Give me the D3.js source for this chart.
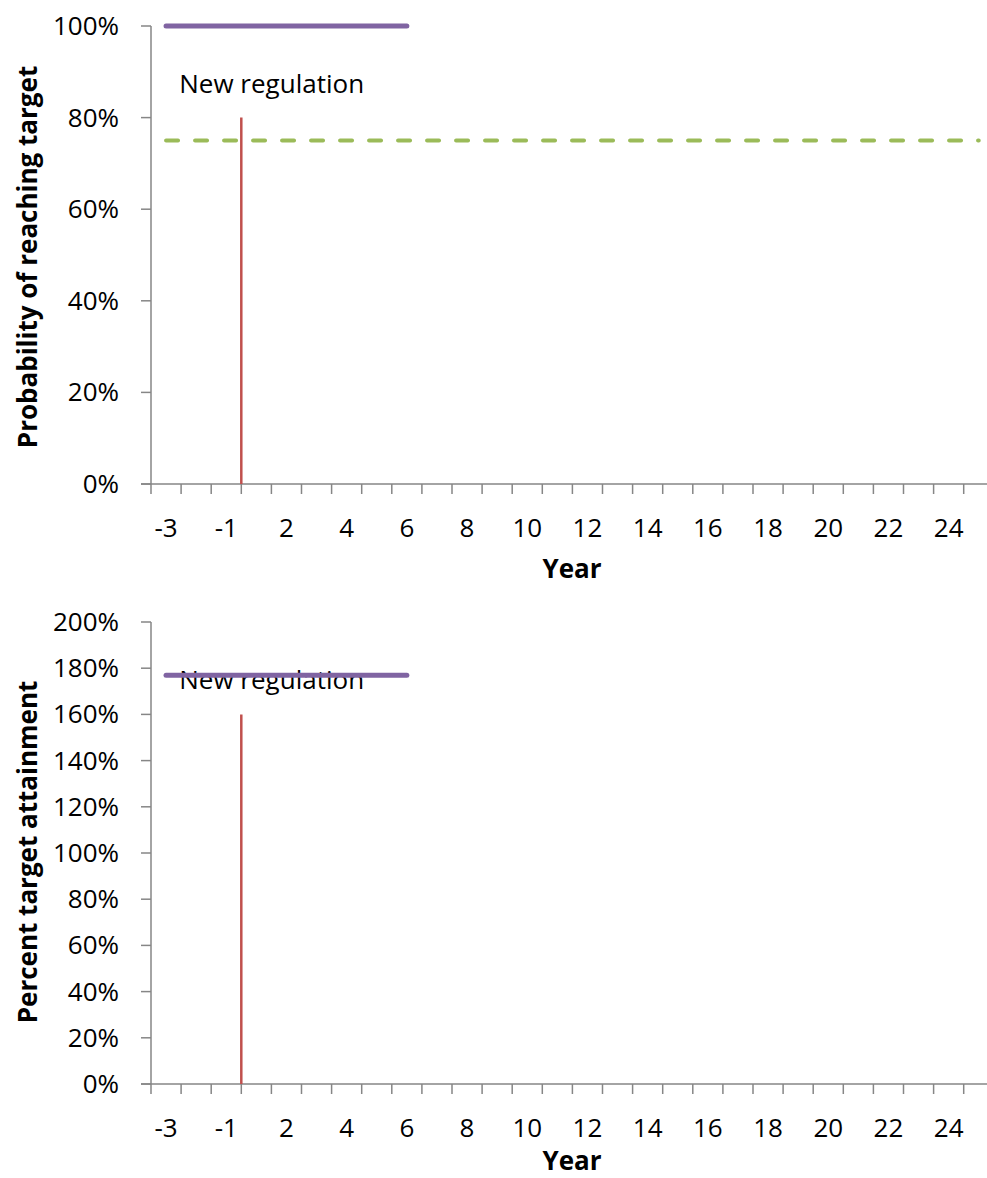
<!DOCTYPE html>
<html>
<head>
<meta charset="utf-8">
<script src="https://cdn.jsdelivr.net/npm/d3@7"></script>
<style>
  html, body { margin: 0; padding: 0; background: #fff; }
  svg { display: block; }
  text { font-family: "Open Sans", "Liberation Sans", sans-serif; fill: #000; }
</style>
</head>
<body>
<svg id="chart" width="987" height="1178"></svg>
<script>
// ---- data ----
const years = ["-3","-2","-1","1","2","3","4","5","6","7","8","9","10","11","12","13","14","15","16","17","18","19","20","21","22","23","24","25"];
const xTickLabels = ["-3","-1","2","4","6","8","10","12","14","16","18","20","22","24"];

// top panel
const topTitle = "Probability of reaching target";
const topYTicks = [0, 0.2, 0.4, 0.6, 0.8, 1.0];
const topPurpleYears = ["-3","-2","-1","1","2","3","4","5","6"];
const topPurpleValues = [1, 1, 1, 1, 1, 1, 1, 1, 1];
const topGreenValues = years.map(() => 0.75); // target line, same value every year
const topRegulation = { year: "1", low: 0, high: 0.8, label: "New regulation" };

// bottom panel
const botTitle = "Percent target attainment";
const botYTicks = [0, 0.2, 0.4, 0.6, 0.8, 1.0, 1.2, 1.4, 1.6, 1.8, 2.0];
const botPurpleYears = ["-3","-2","-1","1","2","3","4","5","6"];
const botPurpleValues = [1.77, 1.77, 1.77, 1.77, 1.77, 1.77, 1.77, 1.77, 1.77];
const botRegulation = { year: "1", low: 0, high: 1.6, label: "New regulation" };

// ---- drawing ----
const svg = d3.select("#chart");
const AXIS = "#868686";
const FS = 26;
const pct = d3.format(".0%");

const x = d3.scaleBand().domain(years).range([151, 151 + 28 * 30.1]).padding(0);
const cx = d => x(d) + x.bandwidth() / 2;

function panel(opts) {
  const g = svg.append("g");
  const y = d3.scaleLinear().domain(opts.yDomain).range(opts.yRange);
  const y0 = y(0);

  // y axis
  g.append("line").attr("x1", 151).attr("x2", 151).attr("y1", y(opts.yDomain[1])).attr("y2", y0)
    .attr("stroke", AXIS).attr("stroke-width", 1.5);
  g.selectAll(".yt").data(opts.yTicks).enter().append("line")
    .attr("x1", 141).attr("x2", 151).attr("y1", d => y(d)).attr("y2", d => y(d))
    .attr("stroke", AXIS).attr("stroke-width", 1.5);
  g.selectAll(".yl").data(opts.yTicks).enter().append("text")
    .attr("x", 119).attr("y", d => y(d) + 9)
    .attr("text-anchor", "end").attr("font-size", FS).text(d => pct(d));

  // x axis
  g.append("line").attr("x1", 141).attr("x2", x.range()[1]).attr("y1", y0).attr("y2", y0)
    .attr("stroke", AXIS).attr("stroke-width", 1.5);
  g.selectAll(".xt").data(years).enter().append("line")
    .attr("x1", d => x(d)).attr("x2", d => x(d)).attr("y1", y0).attr("y2", y0 + 10)
    .attr("stroke", AXIS).attr("stroke-width", 1.5);
  g.selectAll(".xl").data(xTickLabels).enter().append("text")
    .attr("x", d => cx(d)).attr("y", y0 + 53)
    .attr("text-anchor", "middle").attr("font-size", FS).text(d => d);

  // titles
  g.append("text").attr("x", 572).attr("y", y0 + opts.yearOffset)
    .attr("text-anchor", "middle").attr("font-size", FS).attr("font-weight", "bold").text("Year");
  g.append("text").attr("transform", `translate(37,${opts.titleY}) rotate(-90)`)
    .attr("text-anchor", "middle").attr("font-size", FS).attr("font-weight", "bold").text(opts.title);

  const line = d3.line().x(d => cx(d.year)).y(d => y(d.v));

  // green dashed target
  if (opts.green) {
    g.append("path").datum(years.map((yr, i) => ({ year: yr, v: opts.green[i] })))
      .attr("d", line).attr("fill", "none").attr("stroke", "#9BBB59").attr("stroke-width", 4)
      .attr("stroke-linecap", "round").attr("stroke-dasharray", "12,17");
  }

  // regulation marker
  const r = opts.reg;
  g.append("line").attr("x1", x(r.year)).attr("x2", x(r.year)).attr("y1", y(r.low)).attr("y2", y(r.high))
    .attr("stroke", "#C0504D").attr("stroke-width", 2.5);
  g.append("text").attr("x", x(r.year) - 62).attr("y", y(r.high) - 25)
    .attr("font-size", FS).text(r.label);

  // purple
  g.append("path").datum(opts.purpleYears.map((yr, i) => ({ year: yr, v: opts.purple[i] })))
    .attr("d", line).attr("fill", "none").attr("stroke", "#8064A2").attr("stroke-width", 5)
    .attr("stroke-linecap", "round");
}

panel({
  yDomain: [0, 1], yRange: [484, 26], yTicks: topYTicks, title: topTitle, titleY: 257,
  yearOffset: 94, green: topGreenValues, reg: topRegulation,
  purpleYears: topPurpleYears, purple: topPurpleValues
});
panel({
  yDomain: [0, 2], yRange: [1084, 622], yTicks: botYTicks, title: botTitle, titleY: 852,
  yearOffset: 86, green: null, reg: botRegulation,
  purpleYears: botPurpleYears, purple: botPurpleValues
});
</script>
</body>
</html>
